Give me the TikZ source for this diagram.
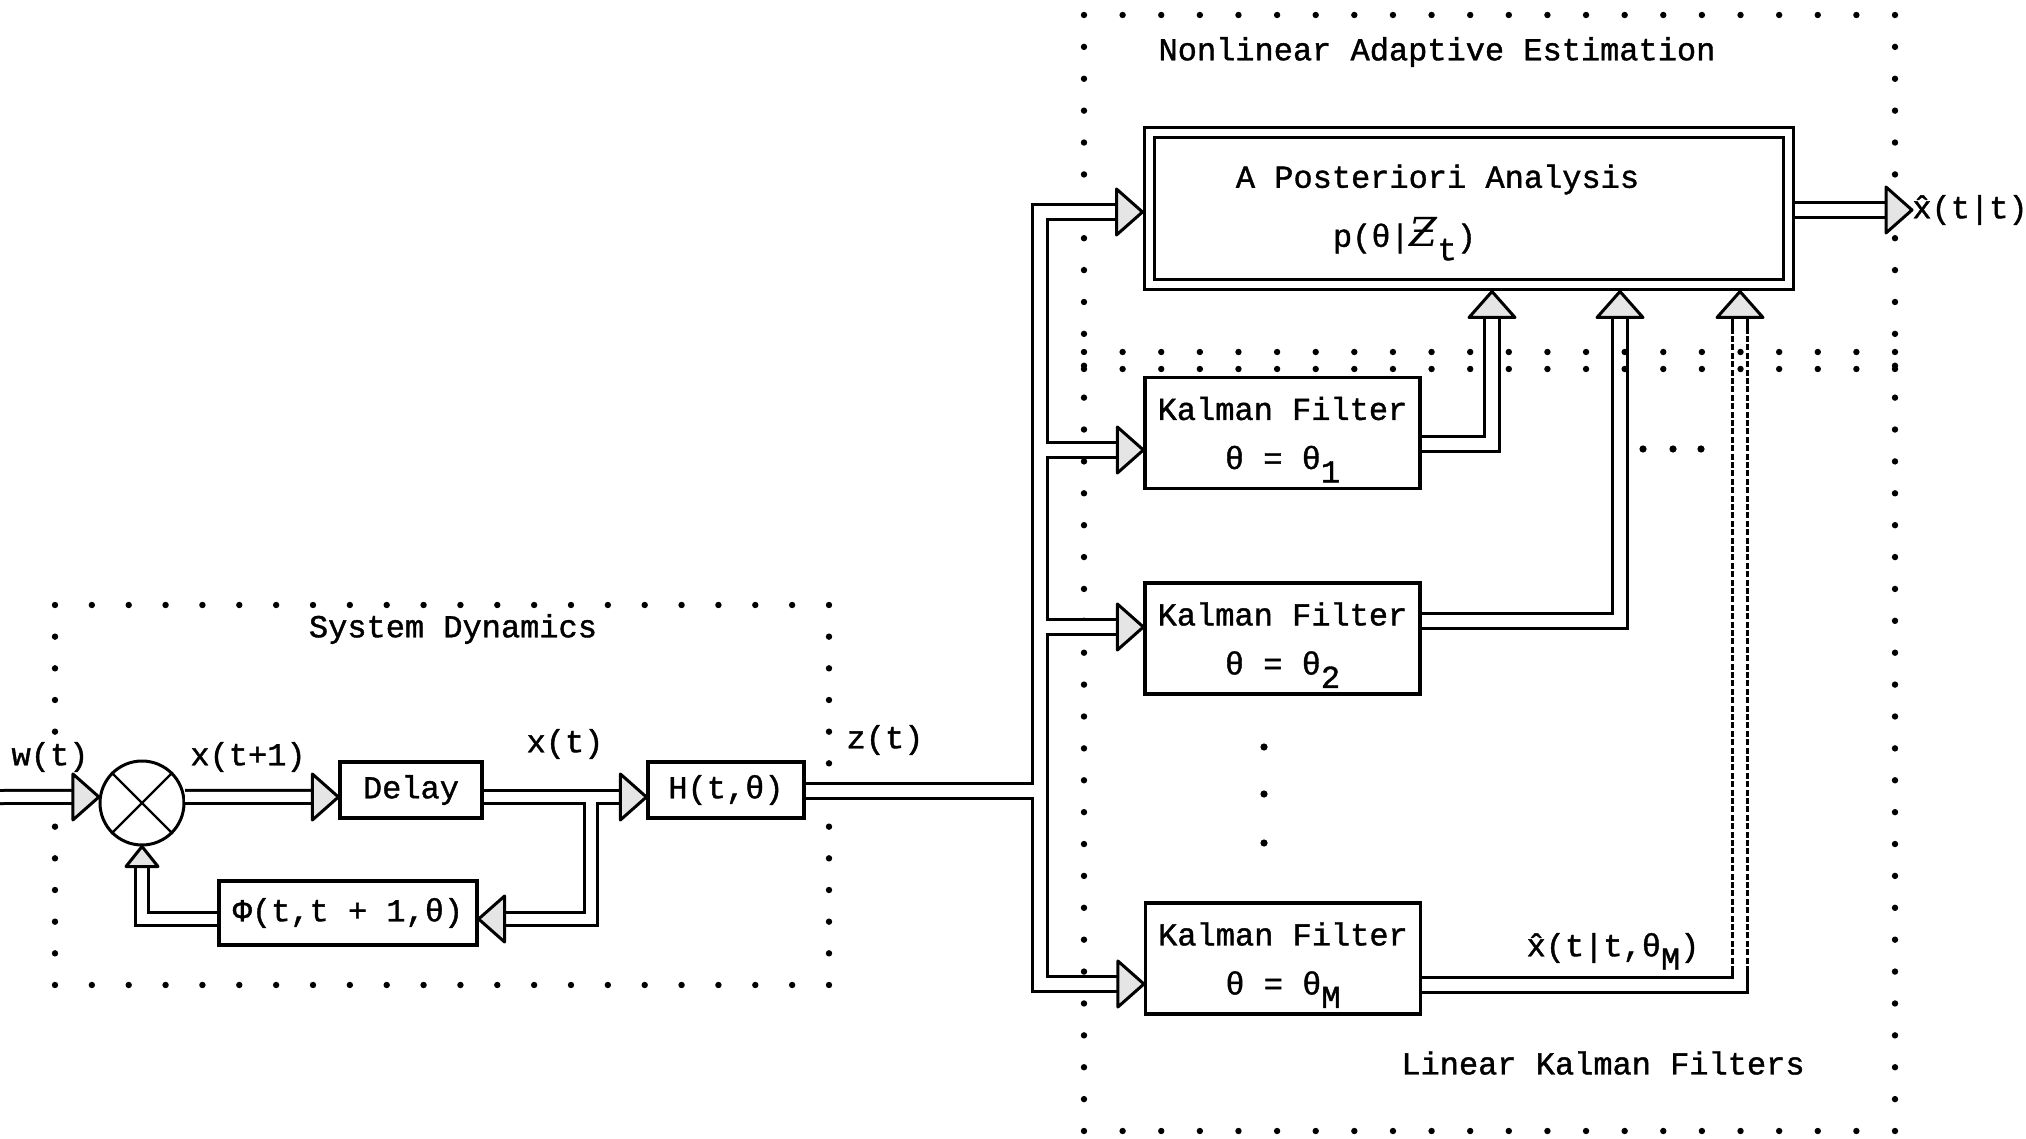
\documentclass[tikz,border=0pt]{standalone}
\usepackage{fontspec}
\setmainfont[FakeBold=1.2]{Liberation Mono}
\newfontfamily\zfont{DejaVu Serif}
\usetikzlibrary{calc}
\newcommand\xhat{x̂}
\newcommand\sbs[1]{\raisebox{-0.42em}[0pt][0pt]{#1}}
\tikzset{
  box/.style={draw, line width=1.6pt, inner sep=0pt, align=center, font=\fontsize{16}{24.5}\selectfont},
  lbl/.style={inner sep=0pt, font=\fontsize{16}{19}\selectfont},
  busL/.style={draw, double, double distance=5pt, line width=1.5pt, line join=miter},
  busR/.style={draw, double, double distance=6pt, line width=1.5pt, line join=miter},
  ahead/.pic={\filldraw[fill=gray!20, line width=1.5pt, line join=round] (0,0) -- (-13pt,11.5pt) -- (-13pt,-11.5pt) -- cycle;},
  aheadS/.pic={\filldraw[fill=gray!20, line width=1.5pt, line join=round] (0,0) -- (-10pt,8pt) -- (-10pt,-8pt) -- cycle;},
}
\begin{document}
\begin{tikzpicture}[x=0.5pt,y=-0.5pt]
\fill[white] (0,0) rectangle (2026,1139);
\useasboundingbox (0,0) rectangle (2026,1139);

% dotted frames
\foreach \i in {0,...,21}{
  \fill ({55+\i*36.857},605) circle (1.6pt);
  \fill ({55+\i*36.857},985) circle (1.6pt);
  \fill ({1084+\i*38.619},15) circle (1.6pt);
  \fill ({1084+\i*38.619},1131) circle (1.6pt);
}
\foreach \j in {1,2,3,4,7,8,9,10,11}{
  \fill (55,{605+\j*31.667}) circle (1.6pt);
}
\foreach \j in {1,...,11}{
  \fill (829,{605+\j*31.667}) circle (1.6pt);
}
\foreach \j in {1,...,34}{
  \fill (1084,{15+\j*31.886}) circle (1.6pt);
  \fill (1895,{15+\j*31.886}) circle (1.6pt);
}

% titles and labels
\node[lbl] (tSD) at (453,629) {System Dynamics};
\node[lbl] (tNAE) at (1437,52) {Nonlinear Adaptive Estimation};
\node[lbl] (tLKF) at (1603,1063) {Linear Kalman Filters};
\node[lbl] (lw) at (50,757) {w(t)};
\node[lbl] (lx1) at (248,757) {x(t+1)};
\node[lbl] (lx) at (565,744) {x(t)};
\node[lbl] (lz) at (885,740) {z(t)};
\node[lbl] (lM) at (1613,948) {\xhat(t|t,θ\sbs{M})};
\node[lbl, anchor=west] (xout) at (1912,210) {\xhat(t|t)};

% blocks
\node[draw, circle, line width=1.5pt, minimum size=42pt, inner sep=0pt] (sum) at (142,803) {};
\draw[line width=1.2pt] (sum.north west) -- (sum.south east) (sum.north east) -- (sum.south west);
\node[box, minimum width=71pt, minimum height=28pt] (delay) at (411,790) {Delay};
\node[box, minimum width=78pt, minimum height=28pt] (H) at (726,790) {H(t,θ)};
\node[box, minimum width=129pt, minimum height=32pt] (phi) at (348,913) {Φ(t,t + 1,θ)};

\node[box, minimum width=137.5pt, minimum height=55.5pt] (KF1) at (1282.5,433) {Kalman Filter\\θ = θ\sbs{1}};
\node[box, minimum width=137.5pt, minimum height=55.5pt] (KF2) at (1282.5,638.5) {Kalman Filter\\θ = θ\sbs{2}};
\node[box, minimum width=137.5pt, minimum height=55.5pt] (KFM) at (1283,958.5) {Kalman Filter\\θ = θ\sbs{M}};

\node[draw, double, double distance=3.5pt, line width=1.5pt, minimum width=319.5pt, minimum height=76pt,
      outer sep=3.25pt, inner sep=0pt, align=center, font=\fontsize{16}{29.5}\selectfont]
      (APA) at (1468.5,209) {\hspace*{-31pt}A Posteriori Analysis\\\hspace*{-64pt}p(θ|{\zfont\fontsize{20}{20}\selectfont\itshape Ƶ}\sbs{t})};

% helper coordinates
\coordinate (win) at (0,797);
\coordinate (fbx) at (591,797);
\coordinate (fby) at (0,919);
\coordinate (zz) at (0,791);
\coordinate (tr) at (1040,0);
\coordinate (zA) at (0,212);
\coordinate (z1) at (0,450);
\coordinate (z2) at (0,627);
\coordinate (zM) at (0,984);
\coordinate (o1) at (0,444);
\coordinate (o2) at (0,621);
\coordinate (oM) at (0,985);
\coordinate (oo) at (0,210);
\coordinate (k1) at (1492,0);
\coordinate (k2) at (1620,0);
\coordinate (kM) at (1740,0);

% system dynamics connectors
\draw[busL] (win) -- ($(sum.172)+(-9pt,0)$);
\pic at (sum.172) {ahead};
\draw[busL] (sum.8) -- ($(delay.west |- win)+(-9pt,0)$);
\pic at (delay.west |- win) {ahead};
\draw[busL] (delay.east |- win) -- ($(H.west |- win)+(-9pt,0)$)
            (fbx) |- ($(phi.east |- fby)+(9pt,0)$);
\pic at (H.west |- win) {ahead};
\pic[rotate=180] at (phi.east |- fby) {ahead};
\draw[busL] (phi.west |- fby) -| ($(sum.south)+(0,-7pt)$);
\pic[rotate=90] at (sum.south) {aheadS};

% measurement distribution
\draw[busR] ($(APA.west |- zA)+(-11pt,0)$) -| (tr |- zM) -- ($(KFM.west |- zM)+(-11pt,0)$)
            (tr |- z1) -- ($(KF1.west |- z1)+(-11pt,0)$)
            (tr |- z2) -- ($(KF2.west |- z2)+(-11pt,0)$)
            (H.east |- zz) -- (tr |- zz);
\pic at (APA.west |- zA) {ahead};
\pic at (KF1.west |- z1) {ahead};
\pic at (KF2.west |- z2) {ahead};
\pic at (KFM.west |- zM) {ahead};

% filter outputs
\draw[busR] (KF1.east |- o1) -| ($(APA.south -| k1)+(0,-11pt)$);
\pic[rotate=90] at (APA.south -| k1) {ahead};
\draw[busR] (KF2.east |- o2) -| ($(APA.south -| k2)+(0,-11pt)$);
\pic[rotate=90] at (APA.south -| k2) {ahead};
\draw[busR] (KFM.east |- oM) -| ($(APA.south -| kM)+(0,-11pt)$);
\pic[rotate=90] at (APA.south -| kM) {ahead};
\draw[white, line width=10pt, dash pattern=on 1.2pt off 3pt] (1740,966) -- (1740,332);

% estimate output
\draw[busR] (APA.east |- oo) -- ($(xout.west |- oo)+(-11pt,0)$);
\pic at (xout.west |- oo) {ahead};

% ellipsis dots
\foreach \x in {1643,1673,1701} \fill (\x,449) circle (1.8pt);
\foreach \y in {747,794,843} \fill (1264,\y) circle (1.8pt);

% inner dotted boundary of the Kalman filter bank
\foreach \i in {0,...,21}{
  \fill ({1084+\i*38.619},352) circle (1.6pt);
  \fill ({1084+\i*38.619},369) circle (1.6pt);
}
\end{tikzpicture}
\end{document}
